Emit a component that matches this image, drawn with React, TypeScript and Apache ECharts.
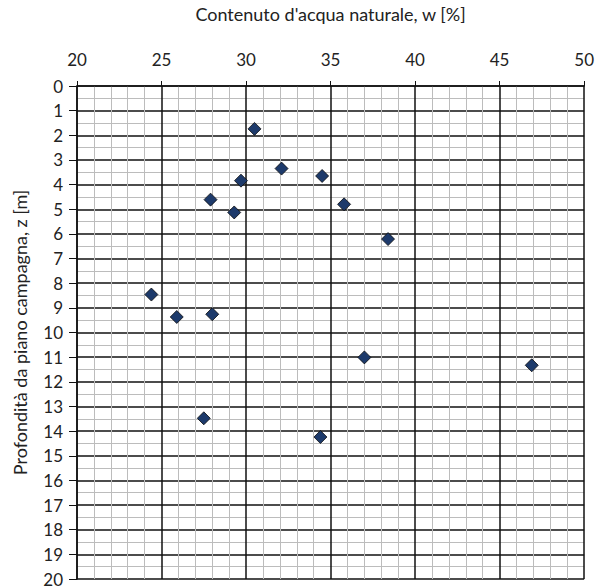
import React, { useEffect, useRef } from "react";
import * as echarts from "echarts";

const waterContent = [30.5, 32.1, 34.5, 29.7, 27.9, 29.3, 35.8, 38.4, 24.4, 25.9, 28.0, 27.5, 34.4, 37.0, 46.9];
const depth = [1.74, 3.35, 3.65, 3.84, 4.61, 5.13, 4.8, 6.21, 8.46, 9.37, 9.26, 13.48, 14.24, 11.01, 11.33];

const xTitle = "Contenuto d'acqua naturale, w [%]";
const yTitle = "Profondità da piano campagna, z [m]";

export default function App() {
  const ref = useRef<HTMLDivElement>(null);
  useEffect(() => {
    if (!ref.current) return;
    const chart = echarts.init(ref.current, undefined, { renderer: "svg" });
    const font = "Lato, 'Open Sans', sans-serif";
    const data = waterContent.map((w, i) => [w, depth[i]]);
    chart.setOption({
      animation: false,
      backgroundColor: "#ffffff",
      grid: { left: 77, top: 84, width: 509, height: 495, show: false },
      xAxis: {
        type: "value",
        position: "top",
        min: 20,
        max: 50,
        interval: 5,
        name: xTitle,
        nameLocation: "middle",
        nameGap: 63,
        nameTextStyle: { fontFamily: font, fontSize: 18, color: "#222" },
        axisLine: { show: true, lineStyle: { color: "#111", width: 1.5 } },
        axisTick: { show: true, length: 5, lineStyle: { color: "#111" } },
        axisLabel: { margin: 18, fontFamily: font, fontSize: 17, color: "#222" },
        splitLine: { show: true, lineStyle: { color: "#111", width: 1.5 } },
        minorTick: { show: false, splitNumber: 5 },
        minorSplitLine: { show: true, lineStyle: { color: "#bcbcbc", width: 1 } },
      },
      yAxis: {
        type: "value",
        inverse: true,
        min: 0,
        max: 20,
        interval: 1,
        name: yTitle,
        nameLocation: "middle",
        nameGap: 48,
        nameTextStyle: { fontFamily: font, fontSize: 18, color: "#222" },
        axisLine: { show: true, lineStyle: { color: "#111", width: 1.5 } },
        axisTick: { show: true, length: 8, lineStyle: { color: "#111" } },
        axisLabel: { margin: 14, fontFamily: font, fontSize: 17, color: "#222" },
        splitLine: { show: true, lineStyle: { color: "#111", width: 1.5 } },
        minorTick: { show: false, splitNumber: 2 },
        minorSplitLine: { show: true, lineStyle: { color: "#bcbcbc", width: 1 } },
      },
      series: [
        {
          type: "scatter",
          data,
          symbol: "diamond",
          symbolSize: 13,
          itemStyle: { color: "#1d3a6b", borderColor: "#0a0a0a", borderWidth: 0.8, opacity: 1 },
        },
      ],
    });
    return () => chart.dispose();
  }, []);
  return (
    <div
      ref={ref}
      style={{ position: "fixed", left: 0, top: 0, width: 597, height: 588, background: "#fff" }}
    />
  );
}
